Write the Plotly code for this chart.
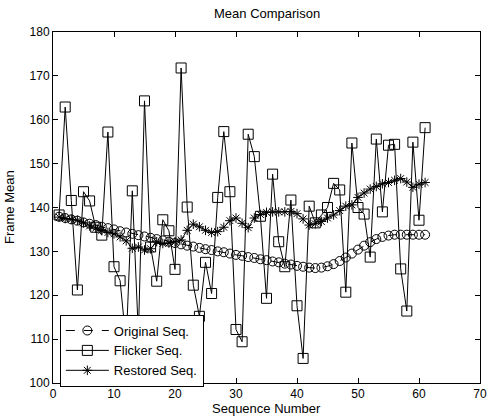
import plotly.graph_objects as go

seq = list(range(1, 62))

original = [137.9, 137.6, 137.3, 137.0, 136.6, 136.3, 136.0, 135.6, 135.3, 135.0,
            134.6, 134.3, 134.0, 133.7, 133.4, 133.1, 132.8, 132.5, 132.2, 131.9,
            131.6, 131.3, 131.1, 130.8, 130.5, 130.3, 130.0, 129.8, 129.5, 129.2,
            129.0, 128.7, 128.5, 128.2, 128.0, 127.7, 127.5, 127.2, 127.0, 126.7,
            126.5, 126.3, 126.2, 126.3, 126.6, 127.1, 127.8, 128.6, 129.5, 130.4,
            131.3, 132.1, 132.8, 133.3, 133.6, 133.8, 133.8, 133.8, 133.8, 133.8,
            133.8]

flicker = [138.3, 162.9, 141.6, 121.2, 143.6, 141.5, 135.5, 133.7, 157.2, 126.5,
           123.3, 109.0, 143.8, 111.0, 164.3, 131.0, 123.2, 137.2, 134.7, 125.9,
           171.8, 140.1, 122.3, 115.2, 127.5, 120.4, 142.3, 157.3, 143.6, 112.2,
           109.4, 156.7, 151.6, 138.0, 119.3, 147.6, 132.2, 126.5, 141.7, 117.6,
           105.6, 140.3, 136.5, 138.3, 140.0, 145.5, 144.0, 120.7, 154.7, 140.0,
           138.5, 128.7, 155.6, 139.0, 154.2, 154.4, 126.0, 116.4, 154.9, 137.1,
           158.2]

restored = [137.8, 137.5, 137.3, 137.1, 136.5, 135.8, 135.3, 134.8, 134.3, 134.0,
            133.3, 132.4, 130.7, 131.0, 130.3, 130.6, 132.2, 131.8, 131.9, 132.2,
            132.6, 134.8, 136.2, 135.6, 134.8, 134.3, 134.5, 135.5, 137.0, 137.6,
            136.4, 135.4, 137.6, 138.4, 138.9, 139.0, 139.0, 139.0, 139.1, 138.6,
            137.4, 136.0, 136.3, 136.8, 137.6, 138.3, 139.3, 140.3, 140.6, 142.3,
            143.3, 144.2, 144.8, 145.4, 145.7, 146.2, 146.6, 145.8, 144.6, 145.3,
            145.7]

x_ticks = [0, 10, 20, 30, 40, 50, 60, 70]
y_ticks = [100, 110, 120, 130, 140, 150, 160, 170, 180]

FONT = "Arial, Liberation Sans, sans-serif"

fig = go.Figure()
fig.add_trace(go.Scatter(
    x=seq, y=original, name="Original Seq.", mode="lines+markers",
    line=dict(color="black", width=1, dash="dash"),
    marker=dict(symbol="circle-open", size=9, color="black", line=dict(width=1))))
fig.add_trace(go.Scatter(
    x=seq, y=flicker, name="Flicker Seq.", mode="lines+markers",
    line=dict(color="black", width=1),
    marker=dict(symbol="square-open", size=10, color="black", line=dict(width=1))))
fig.add_trace(go.Scatter(
    x=seq, y=restored, name="Restored Seq.", mode="lines+markers",
    line=dict(color="black", width=1),
    marker=dict(symbol="asterisk-open", size=8, color="black", line=dict(width=1, color="black"))))

axis_common = dict(
    showgrid=False, zeroline=False, showline=True, linecolor="black", linewidth=1,
    mirror="ticks", ticks="inside", ticklen=5, tickcolor="black", tickwidth=1,
    tickfont=dict(family=FONT, size=12, color="black"))

fig.update_layout(
    width=494, height=417,
    margin=dict(l=53, r=7, t=32, b=34),
    paper_bgcolor="white", plot_bgcolor="white",
    font=dict(family=FONT, size=12, color="black"),
    showlegend=True,
    legend=dict(x=0.016, y=0.195, xanchor="left", yanchor="top",
                bgcolor="white", bordercolor="black", borderwidth=1,
                font=dict(family=FONT, size=13, color="black"),
                tracegroupgap=0, itemwidth=43),
    xaxis=dict(range=[0, 70], tickvals=x_ticks, **axis_common),
    yaxis=dict(range=[100, 180], tickvals=y_ticks, **axis_common),
    annotations=[
        dict(text="Mean Comparison", x=0.5, y=1, xref="paper", yref="paper",
             xanchor="center", yanchor="bottom", yshift=9, showarrow=False,
             font=dict(family=FONT, size=13, color="black")),
        dict(text="Sequence Number", x=0.5, y=0, xref="paper", yref="paper",
             xanchor="center", yanchor="top", yshift=-16, showarrow=False,
             font=dict(family=FONT, size=13, color="black")),
        dict(text="Frame Mean", x=0, y=0.5, xref="paper", yref="paper",
             xanchor="right", yanchor="middle", xshift=-34, textangle=-90,
             showarrow=False, font=dict(family=FONT, size=13, color="black")),
    ],
)

fig.write_html("out.html")
